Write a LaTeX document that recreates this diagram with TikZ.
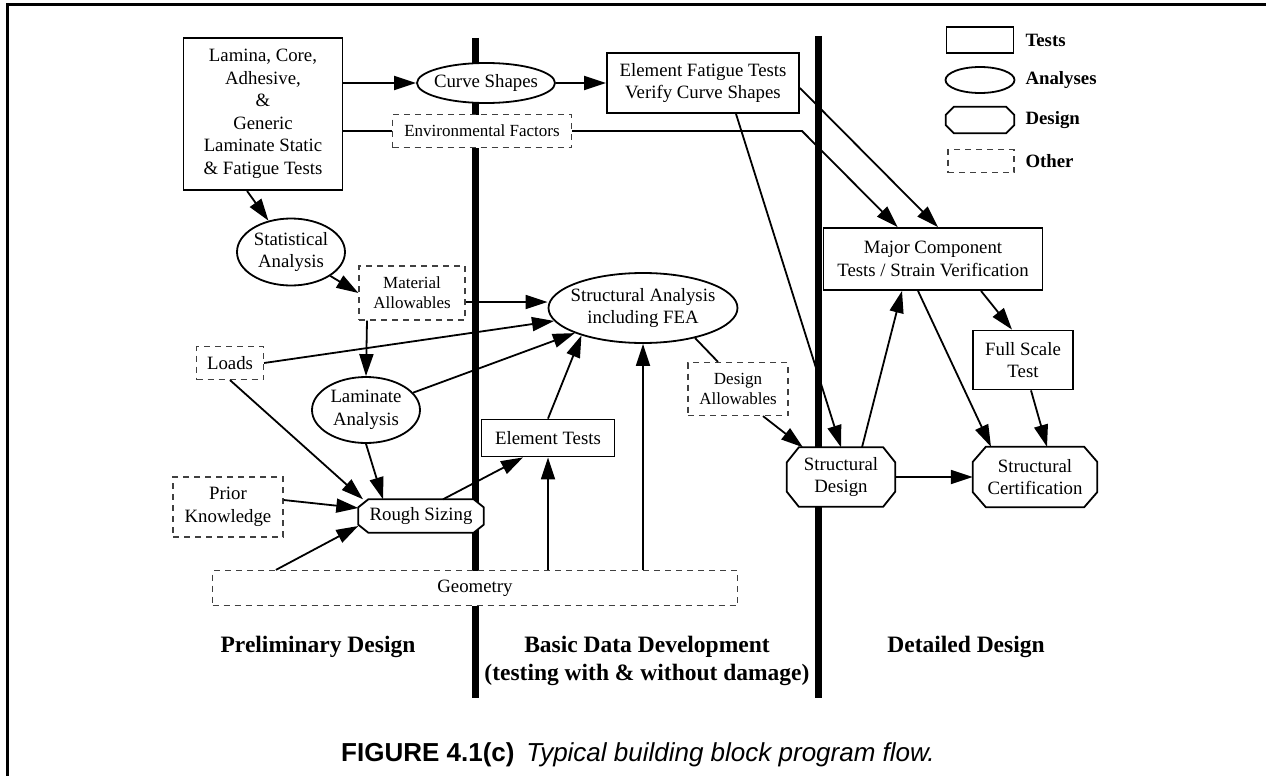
\documentclass[tikz,border=0pt]{standalone}
\usepackage{fontspec}
\setmainfont{Liberation Serif}
\setsansfont{Liberation Sans}
\usetikzlibrary{arrows.meta,shapes.geometric,backgrounds}
\newcommand{\dfont}{\fontsize{18.8}{22.5}\selectfont}
\newcommand{\sfont}{\fontsize{17}{20}\selectfont}
% octagonal outline round a (plain) design node: node, x-cut, y-cut
\newcommand{\octbox}[3]{%
  \draw[line width=1.8pt,fill=white] ([xshift=#2]#1.north west) -- ([xshift=-#2]#1.north east)
    -- ([yshift=-#3]#1.north east) -- ([yshift=#3]#1.south east) -- ([xshift=-#2]#1.south east)
    -- ([xshift=#2]#1.south west) -- ([yshift=#3]#1.south west) -- ([yshift=-#3]#1.north west) -- cycle;}

\begin{document}
\begin{tikzpicture}[x=1pt,y=-1pt,
  test/.style={rectangle,draw,fill=white,line width=1.8pt,inner sep=0pt,
               font=\dfont,align=center},
  ana/.style={ellipse,draw,fill=white,line width=1.8pt,inner xsep=-12pt,inner ysep=0pt,
              font=\dfont,align=center},
  des/.style={rectangle,inner sep=0pt,font=\dfont,align=center},
  oth/.style={rectangle,draw=black!75,dash pattern=on 6pt off 5pt,line width=1.2pt,
              fill=white,inner sep=0pt,font=\dfont,align=center},
  arr/.style={-{Triangle[length=22pt,width=14pt]},line width=1.8pt},
  lnk/.style={line width=1.8pt},
  divider/.style={line width=7pt},
  sect/.style={font=\fontsize{23.5}{28}\selectfont\bfseries,align=center},
  leg/.style={anchor=west,font=\dfont\bfseries}
]
\useasboundingbox (0,0) rectangle (1266,776);
% frame
\draw[line width=3pt] (7,776) -- (7,5) -- (1266,5);

% preliminary design
\node[test,minimum width=159,minimum height=152] (lam) at (263,114)
  {Lamina, Core,\\Adhesive,\\\&\\Generic\\Laminate Static\\\& Fatigue Tests};
\node[ana,minimum width=108,minimum height=67] (stat) at (291,252) {Statistical\\Analysis};
\node[oth,minimum width=106,minimum height=54,font=\sfont] (mat) at (412,293) {Material\\Allowables};
\node[oth,minimum width=67,minimum height=33] (loads) at (230,363) {Loads};
\node[ana,minimum width=108,minimum height=66] (lamA) at (366,410) {Laminate\\Analysis};
\node[oth,minimum width=110,minimum height=60] (prior) at (228,507) {Prior\\Knowledge};
\node[des,minimum width=125,minimum height=33] (rough) at (421,516) {Rough Sizing};
\node[oth,minimum width=525,minimum height=35] (geom) at (475,588) {Geometry};

% basic data development
\node[ana,minimum width=138,minimum height=40] (curve) at (486,83) {Curve Shapes};
\node[oth,minimum width=179,minimum height=33,font=\sfont] (env) at (482,131) {Environmental Factors};
\node[test,minimum width=192,minimum height=60] (eft) at (703,83) {Element Fatigue Tests\\Verify Curve Shapes};
\node[ana,minimum width=189,minimum height=70] (sa) at (643,308) {Structural Analysis\\including FEA};
\node[test,minimum width=133,minimum height=37] (et) at (548,438) {Element Tests};
\node[oth,minimum width=100,minimum height=53,font=\sfont] (da) at (738,389) {Design\\Allowables};

% detailed design
\node[test,minimum width=219,minimum height=62] (mc) at (933,259) {Major Component\\Tests / Strain Verification};
\node[test,minimum width=100,minimum height=59] (fst) at (1023,360) {Full Scale\\Test};
\node[des,minimum width=108,minimum height=59] (sd) at (841,477) {Structural\\Design};
\node[des,minimum width=124,minimum height=60] (sc) at (1035,477) {Structural\\Certification};

% legend
\node[test,minimum width=67,minimum height=26] (kt) at (980,40) {};
\node[ana,minimum width=69,minimum height=26] (ka) at (980,80) {};
\node[des,minimum width=68,minimum height=26] (kd) at (980,120) {};
\node[oth,minimum width=66,minimum height=23] (ko) at (981,161) {};
\node[leg] (ktl) at (1022,40) {Tests};
\node[leg] (kal) at (1022,80) {Analyses};
\node[leg] (kdl) at (1022,120) {Design};
\node[leg] (kol) at (1022,161) {Other};

% phase dividers and design outlines, behind the rest
\begin{pgfonlayer}{background}
\draw[divider] (475,38) -- (475,698);
\draw[divider] (818,36) -- (818,698);
\octbox{rough}{10pt}{8pt}
\octbox{sd}{12pt}{15pt}
\octbox{sc}{13pt}{15pt}
\octbox{kd}{8pt}{8pt}
\end{pgfonlayer}

% phase labels
\node[sect] (prelim) at (318,647) {Preliminary Design};
\node[sect] (basic) at (647,661) {Basic Data Development\\(testing with \& without damage)};
\node[sect] (detail) at (966,647) {Detailed Design};
\node[font=\sffamily\fontsize{26}{30}\selectfont] (cap) at (638,755)
  {\textbf{FIGURE 4.1(c)}\hspace{0.45em}\textit{Typical building block program flow.}};

% flows
\coordinate (envbend) at (802,131);
\draw[arr] (lam.east |- curve.west) -- (curve.west);
\draw[arr] (curve.east) -- (eft.west);
\draw[lnk] (lam.east |- env.west) -- (env.west);
\draw[arr] (env.east) -- (envbend) -- ([xshift=75pt]mc.north west);
\draw[arr] ([yshift=-5pt]eft.east) -- ([xshift=5pt]mc.north);
\draw[arr] ([xshift=33pt]eft.south) -- (sd.north);
\draw[arr] ([xshift=-16pt]lam.south) -- (stat);
\draw[arr] (stat) -- (mat.west);
\draw[arr] ([yshift=-9pt]mat.east) -- ([yshift=-9pt]mat.east -| sa.west);
\draw[arr] (loads.east) -- (sa);
\draw[arr] (lamA) -- (sa);
\draw[arr] ([xshift=-45pt]mat.south) -- (lamA.north);
\draw[arr] (loads.south) -- ([xshift=-58pt]rough.north);
\draw[arr] (lamA.south) -- ([xshift=-38pt]rough.north);
\draw[arr] ([yshift=7pt]prior.east) -- ([yshift=8pt]rough.west);
\draw[arr] ([xshift=64pt]geom.north west) -- ([yshift=-10pt]rough.west);
\draw[arr] ([xshift=22pt]rough.north) -- ([xshift=-25pt]et.south);
\draw[arr] (geom.north -| et.south) -- (et.south);
\draw[arr] (et.north) -- (sa.204);
\draw[arr] (geom.north -| sa.south) -- (sa.south);
\draw[lnk] (sa.-30) -- ([xshift=-20pt]da.north);
\draw[arr] ([xshift=25pt]da.south) -- (sd);
\draw[arr] (sd.east) -- (sc.west);
\draw[arr] ([xshift=21pt]sd.north) -- ([xshift=-31pt]mc.south);
\draw[arr] ([xshift=-15pt]mc.south) -- ([xshift=-44pt]sc.north);
\draw[arr] ([xshift=48pt]mc.south) -- ([xshift=-11pt]fst.north);
\draw[arr] ([xshift=8pt]fst.south) -- ([xshift=12pt]sc.north);
\end{tikzpicture}
\end{document}
